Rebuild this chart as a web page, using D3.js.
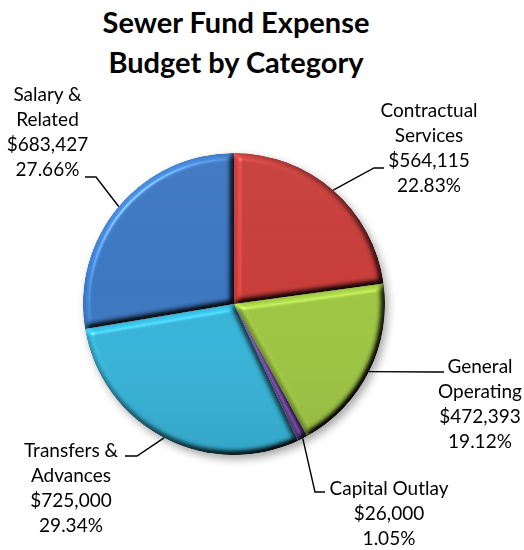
<!DOCTYPE html>
<html>
<head>
<meta charset="utf-8">
<script src="https://cdn.jsdelivr.net/npm/d3@7"></script>
<style>
  html, body { margin: 0; padding: 0; background: #fff; }
  svg { display: block; }
</style>
</head>
<body>
<svg id="chart" width="524" height="550"></svg>
<script>
// Sewer Fund expense budget, by category (clockwise from 12 o'clock)
const categories = ["Contractual Services", "General Operating", "Capital Outlay", "Transfers & Advances", "Salary & Related"];
const labelLines = [["Contractual", "Services"], ["General", "Operating"], ["Capital Outlay"], ["Transfers &", "Advances"], ["Salary &", "Related"]];
const amounts = [564115, 472393, 26000, 725000, 683427];
const colors = ["#c63c39", "#9dc442", "#7046a0", "#35b2d6", "#3a75be"];
const titleLines = ["Sewer Fund Expense", "Budget by Category"];

// Layout: label anchors (centre x, first baseline) and leader elbows
const labelLayout = [
  { x: 429, y: 117, ex: 374, ey: 168, tx: 384 },
  { x: 480, y: 373, ex: 434, ey: 372, tx: 444 },
  { x: 389, y: 495, ex: 315, ey: 492, tx: 325 },
  { x: 71,  y: 457, ex: 137, ey: 456, tx: 125 },
  { x: 47.5, y: 101, ex: 96, ey: 177, tx: 85 }
];

const cx = 234, cy = 304, radius = 151;
const lineGap = 25;
const fontFamily = "Lato, 'Open Sans', sans-serif";

const svg = d3.select("#chart");
const defs = svg.append("defs");

// Soft drop shadow under the whole pie
const shadow = defs.append("filter").attr("id", "pieShadow")
  .attr("color-interpolation-filters", "sRGB")
  .attr("x", "-20%").attr("y", "-20%").attr("width", "140%").attr("height", "140%");
shadow.append("feDropShadow")
  .attr("dx", 3).attr("dy", 4).attr("stdDeviation", 4)
  .attr("flood-color", "#000").attr("flood-opacity", 0.35);

// Rounded bevel on each slice, lit from the upper left
const bevel = defs.append("filter").attr("id", "bevel")
  .attr("color-interpolation-filters", "sRGB")
  .attr("filterUnits", "userSpaceOnUse")
  .attr("x", -radius - 20).attr("y", -radius - 20)
  .attr("width", 2 * radius + 40).attr("height", 2 * radius + 40);
bevel.append("feGaussianBlur").attr("in", "SourceAlpha").attr("stdDeviation", 3).attr("result", "blur");
const diff = bevel.append("feDiffuseLighting")
  .attr("in", "blur").attr("surfaceScale", 6).attr("diffuseConstant", 1)
  .attr("lighting-color", "#fff").attr("result", "light");
diff.append("feDistantLight").attr("azimuth", 225).attr("elevation", 55);
bevel.append("feComposite").attr("in", "SourceGraphic").attr("in2", "light")
  .attr("operator", "arithmetic").attr("k1", 1.22).attr("k2", 0).attr("k3", 0).attr("k4", 0)
  .attr("result", "shaded");
const spec = bevel.append("feSpecularLighting")
  .attr("in", "blur").attr("surfaceScale", 6).attr("specularConstant", 0.3)
  .attr("specularExponent", 60).attr("lighting-color", "#fff").attr("result", "spec");
spec.append("feDistantLight").attr("azimuth", 225).attr("elevation", 50);
bevel.append("feComposite").attr("in", "spec").attr("in2", "SourceAlpha")
  .attr("operator", "in").attr("result", "specIn");
bevel.append("feComposite").attr("in", "shaded").attr("in2", "specIn")
  .attr("operator", "arithmetic").attr("k1", 0).attr("k2", 1).attr("k3", 1).attr("k4", 0)
  .attr("result", "lit");
bevel.append("feComposite").attr("in", "lit").attr("in2", "SourceAlpha").attr("operator", "in");

// Gentle top-to-bottom shading across the whole pie
const grad = defs.append("linearGradient").attr("id", "pieShade")
  .attr("x1", 0).attr("y1", 0).attr("x2", 0).attr("y2", 1);
grad.append("stop").attr("offset", 0).attr("stop-color", "#fff").attr("stop-opacity", 0.04);
grad.append("stop").attr("offset", 0.45).attr("stop-color", "#fff").attr("stop-opacity", 0);
grad.append("stop").attr("offset", 1).attr("stop-color", "#000").attr("stop-opacity", 0.08);

const total = d3.sum(amounts);
const data = categories.map((c, i) => ({
  category: c, amount: amounts[i], color: colors[i],
  lines: labelLines[i], layout: labelLayout[i],
  pct: (amounts[i] / total * 100).toFixed(2) + "%"
}));

const pie = d3.pie().value(d => d.amount).sort(null);
const arc = d3.arc().innerRadius(0).outerRadius(radius);
const arcs = pie(data);

// Title
svg.append("g").selectAll("text").data(titleLines).join("text")
  .attr("x", 236).attr("y", (d, i) => 33 + i * 40)
  .attr("text-anchor", "middle")
  .attr("font-family", fontFamily).attr("font-weight", 700).attr("font-size", 29)
  .attr("fill", "#000")
  .text(d => d);

// Slices
const pieG = svg.append("g").attr("filter", "url(#pieShadow)");
const sliceG = pieG.append("g").attr("transform", `translate(${cx},${cy})`);
sliceG.selectAll("path.slice").data(arcs).join("path")
  .attr("class", "slice")
  .attr("d", arc)
  .attr("fill", d => d.data.color)
  .attr("filter", "url(#bevel)");
sliceG.append("circle").attr("r", radius - 0.5)
  .attr("fill", "url(#pieShade)").attr("pointer-events", "none");

// Leader lines from each slice edge to its label
const fmt = d3.format("$,");
const lineG = svg.append("g");
arcs.forEach(a => {
  const mid = (a.startAngle + a.endAngle) / 2;
  const px = cx + radius * Math.sin(mid);
  const py = cy - radius * Math.cos(mid);
  const L = a.data.layout;
  lineG.append("polyline")
    .attr("points", `${px},${py} ${L.ex},${L.ey} ${L.tx},${L.ey}`)
    .attr("fill", "none").attr("stroke", "#000").attr("stroke-width", 1.4);
});

// Data labels: category, amount, share
const labelG = svg.append("g")
  .attr("font-family", fontFamily).attr("font-size", 19).attr("fill", "#000")
  .attr("text-anchor", "middle");
arcs.forEach(a => {
  const d = a.data;
  const rows = d.lines.concat([fmt(d.amount), d.pct]);
  labelG.append("g").selectAll("text").data(rows).join("text")
    .attr("x", d.layout.x)
    .attr("y", (r, i) => d.layout.y + i * lineGap)
    .text(r => r);
});
</script>
</body>
</html>
